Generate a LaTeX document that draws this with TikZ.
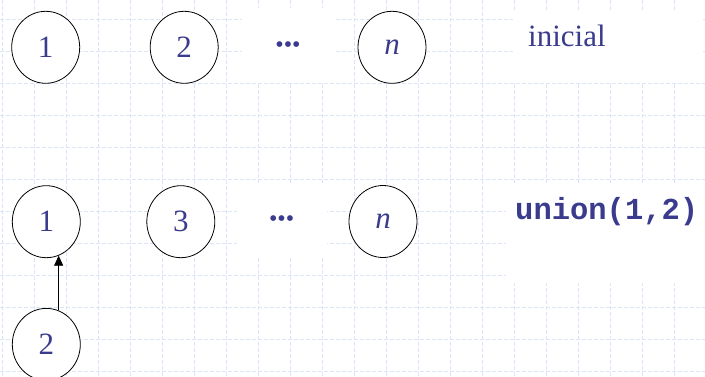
\documentclass[tikz,border=0pt]{standalone}
\usepackage{fontspec}
\setmainfont{Liberation Serif}
\setmonofont{Liberation Mono}
\usepackage{tikz}
\usetikzlibrary{calc,positioning,shapes.geometric,arrows.meta}
\usepackage{xcolor}
\definecolor{textblue}{HTML}{3B3B8E}
\definecolor{gridblue}{HTML}{DCE4F8}

\begin{document}
\begin{tikzpicture}[x=1pt,y=-1pt]
\useasboundingbox (0,0) rectangle (705,377);
\tikzstyle{gridline}=[gridblue, line width=0.8pt, dash pattern=on 4pt off 2pt]
\tikzstyle{mask}=[fill=white, draw=none]
\tikzstyle{vertex}=[ellipse, draw=black, line width=0.8pt, fill=white, minimum width=68pt, minimum height=72pt, inner sep=0pt, text=textblue, font=\fontsize{31}{36}\selectfont]
\tikzstyle{dots}=[inner sep=0pt, anchor=base, text=textblue, font=\fontsize{24}{30}\selectfont]
\tikzstyle{label}=[inner sep=0pt, anchor=base west, text=textblue]
% background grid
\foreach \k in {0,...,21} \draw[gridline] (2.7+32*\k,0) -- (2.7+32*\k,377);
\foreach \k in {0,...,11} \draw[gridline] (0,19.3+32*\k) -- (705,19.3+32*\k);
\fill[mask] (242,8) rectangle (335,83);
\fill[mask] (237,183) rectangle (327,258);
\fill[mask] (513,10) rectangle (703,83);
\fill[mask] (506,183) rectangle (705,283);
% first row
\node[vertex] (a1) at (45.7,47.3) {1};
\node[vertex] (a2) at (184.2,47.3) {2};
\node[dots] (adots) at (288,52.3) {•••};
\node[vertex] (an) at (392,47.3) {\itshape n};
\node[label, font=\fontsize{31}{36}\selectfont] (init) at (528,46.7) {inicial};
% second row
\node[vertex] (b1) at (46.3,221.7) {1};
\node[vertex] (b3) at (180.8,221.7) {3};
\node[dots] (bdots) at (281.7,226.7) {•••};
\node[vertex] (bn) at (383,221.5) {\itshape n};
\node[label, font=\fontsize{30.5}{36}\selectfont\ttfamily\bfseries] (union) at (515,219.3) {union(1,2)};
\node[vertex] (b2) at (46.3,344.4) {2};
\draw[line width=0.8pt, -{Triangle[length=10pt,width=9pt]}] (b2.70) -- (b1.-70);
\end{tikzpicture}
\end{document}
